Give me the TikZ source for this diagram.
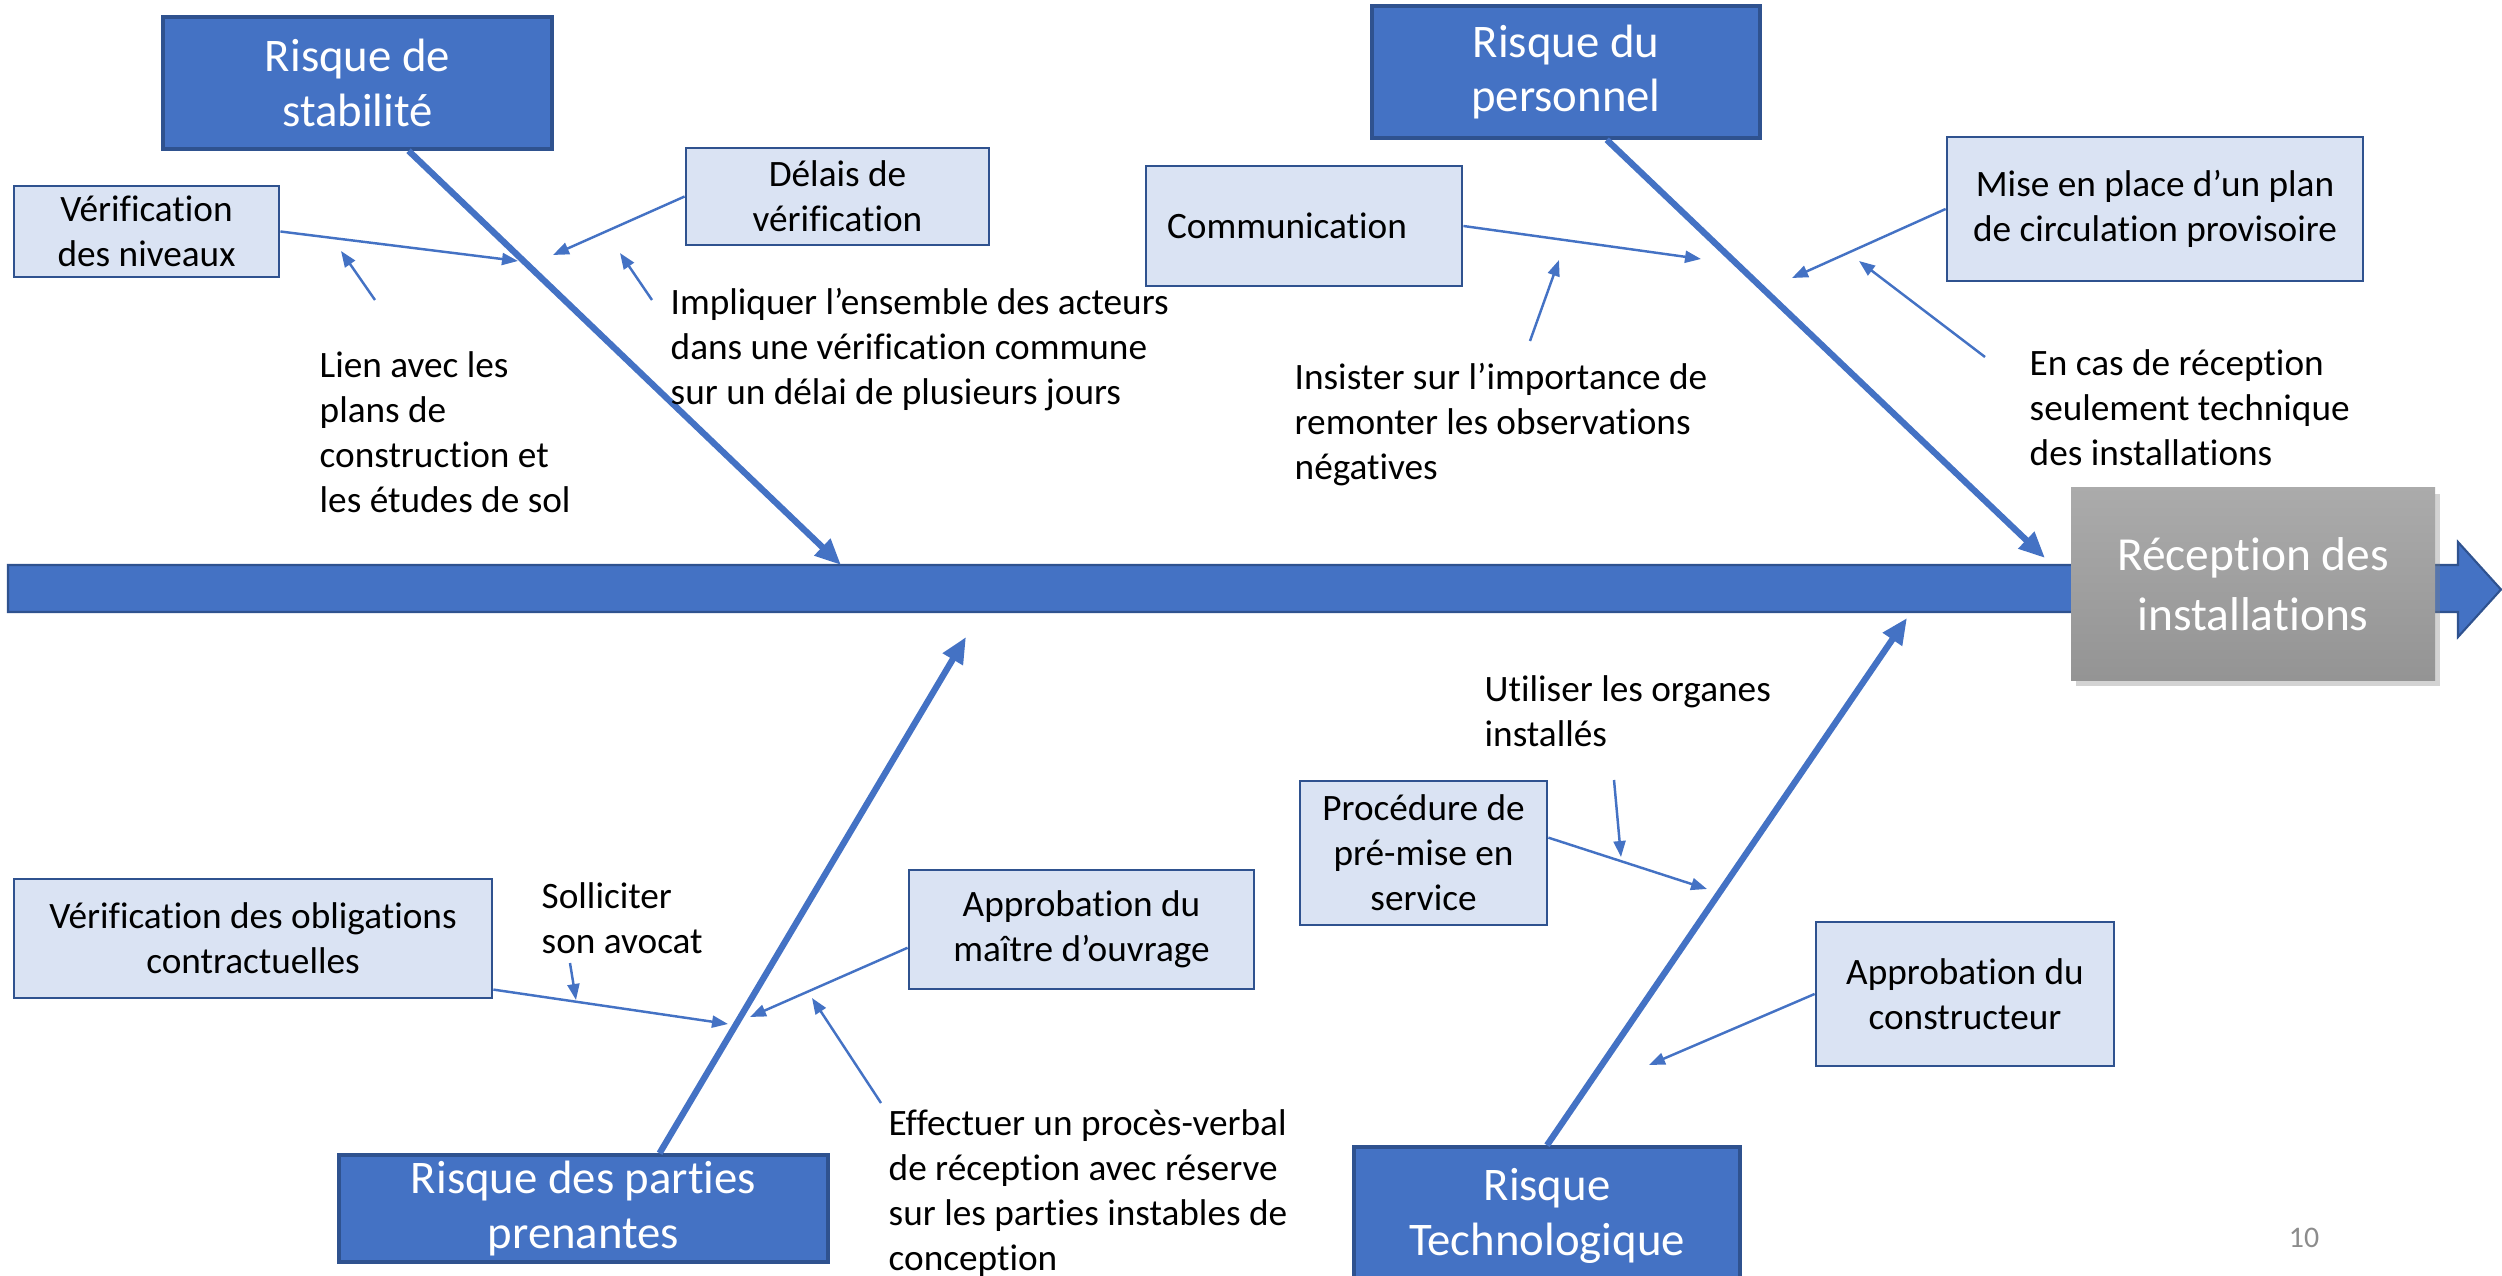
\documentclass[tikz,border=0pt]{standalone}
\usepackage{fontspec}
\setmainfont{Carlito}[Ligatures=NoCommon]
\usetikzlibrary{arrows.meta,shadows}
\definecolor{fishblue}{HTML}{4472C4}
\definecolor{fishedge}{HTML}{2F528F}
\definecolor{fishlight}{HTML}{DAE3F3}
\tikzset{
	riskbox/.style={draw=fishedge, fill=fishblue, line width=1pt, text=white, align=center, inner sep=0pt, font=\fontsize{13.3}{15.6}\selectfont},
	causebox/.style={draw=fishedge, fill=fishlight, line width=0.8pt, align=center, inner sep=0pt, font=\fontsize{10.6}{12.8}\selectfont},
	goalbox/.style={top color=black!33, bottom color=black!42, drop shadow={opacity=0.35, shadow xshift=0.05, shadow yshift=-0.06}, text=white, align=center, inner sep=0pt, font=\fontsize{13.5}{17}\selectfont},
	note/.style={anchor=north west, align=left, inner sep=0pt, font=\fontsize{10.6}{12.8}\selectfont},
	bone/.style={draw=fishblue, line width=1.8pt, -{Triangle[length=0.26cm,width=0.22cm]}},
	twig/.style={draw=fishblue, line width=0.7pt, -{Triangle[length=0.16cm,width=0.12cm]}}
}
\begin{document}
\begin{tikzpicture}
	\useasboundingbox (0,0) rectangle (25.02,12.75);
	\clip (0,0) rectangle (25.02,12.75);
	% spine
	\draw[draw=fishedge, fill=fishblue, line width=0.6pt] (0.08,7.10) -- (24.58,7.10) -- (24.58,7.33) -- (25.01,6.855) -- (24.58,6.38) -- (24.58,6.63) -- (0.08,6.63) -- cycle;
	\node[goalbox, minimum width=3.64cm, minimum height=1.92cm] (recep) at (22.53,6.91) {Réception des\\installations};

	% main causes
	\node[riskbox, minimum width=3.89cm, minimum height=1.32cm] (stab) at (3.575,11.92) {Risque de\\stabilité};
	\node[riskbox, minimum width=3.88cm, minimum height=1.32cm] (pers) at (15.66,12.03) {Risque du\\personnel};
	\node[riskbox, minimum width=4.89cm, minimum height=1.07cm] (part) at (5.835,0.665) {Risque des parties\\prenantes};
	\node[riskbox, minimum width=3.86cm, minimum height=1.38cm] (techno) at (15.47,0.59) {Risque\\Technologique};
	\coordinate (tipstab) at (8.41,7.10);
	\coordinate (tippers) at (20.45,7.17);
	\coordinate (tippart) at (9.66,6.38);
	\coordinate (tiptechno) at (19.07,6.57);
	\draw[bone] (stab.-53) -- (tipstab);
	\draw[bone] (pers.-59) -- (tippers);
	\draw[bone] (part.36) -- (tippart);
	\draw[bone] (techno.north) -- (tiptechno);

	% sub causes
	\node[causebox, minimum width=2.65cm, minimum height=0.91cm] (nivx) at (1.465,10.435) {Vérification\\des niveaux};
	\node[causebox, minimum width=3.03cm, minimum height=0.97cm] (delai) at (8.375,10.785) {Délais de\\vérification};
	\node[causebox, minimum height=1.20cm, text width=2.74cm, inner xsep=0.21cm, align=left] (comm) at (13.04,10.49) {Communication};
	\node[causebox, minimum width=4.16cm, minimum height=1.44cm] (plan) at (21.55,10.66) {Mise en place d’un plan\\de circulation provisoire};
	\node[causebox, minimum width=4.78cm, minimum height=1.19cm] (oblig) at (2.53,3.365) {Vérification des obligations\\contractuelles};
	\node[causebox, minimum width=3.45cm, minimum height=1.19cm] (mo) at (10.815,3.455) {Approbation du\\maître d’ouvrage};
	\node[causebox, minimum width=2.47cm, minimum height=1.44cm] (proc) at (14.235,4.22) {Procédure de\\pré-mise en\\service};
	\node[causebox, minimum width=2.98cm, minimum height=1.44cm] (constr) at (19.65,2.81) {Approbation du\\constructeur};
	\coordinate (endnivx) at (5.18,10.14);
	\coordinate (enddelai) at (5.53,10.20);
	\coordinate (endcomm) at (17.01,10.16);
	\coordinate (endplan) at (17.92,9.97);
	\coordinate (endoblig) at (7.28,2.51);
	\coordinate (endmo) at (7.50,2.58);
	\coordinate (endproc) at (17.07,3.86);
	\coordinate (endconstr) at (16.49,2.10);
	\draw[twig] (nivx.east) -- (endnivx);
	\draw[twig] (delai.west) -- (enddelai);
	\draw[twig] (comm.east) -- (endcomm);
	\draw[twig] (plan.west) -- (endplan);
	\draw[twig] (oblig.-12) -- (endoblig);
	\draw[twig] (mo.186) -- (endmo);
	\draw[twig] (proc.7) -- (endproc);
	\draw[twig] (constr.west) -- (endconstr);

	% remarks
	\node[note] (lien) at (3.19,9.24) {Lien avec les\\plans de\\construction et\\les études de sol};
	\node[note] (impl) at (6.70,9.87) {Impliquer l’ensemble des acteurs\\dans une vérification commune\\sur un délai de plusieurs jours};
	\node[note] (insist) at (12.94,9.12) {Insister sur l’importance de\\remonter les observations\\négatives};
	\node[note] (encas) at (20.29,9.26) {En cas de réception\\seulement technique\\des installations};
	\node[note] (sollic) at (5.41,3.93) {Solliciter\\son avocat};
	\node[note] (effect) at (8.88,1.66) {Effectuer un procès-verbal\\de réception avec réserve\\sur les parties instables de\\conception};
	\node[note] (utilis) at (14.84,6.00) {Utiliser les organes\\installés};
	\coordinate (lienA) at (3.75,9.75);
	\coordinate (lienB) at (3.41,10.24);
	\coordinate (implA) at (6.52,9.75);
	\coordinate (implB) at (6.20,10.22);
	\coordinate (insistA) at (15.30,9.34);
	\coordinate (insistB) at (15.59,10.15);
	\coordinate (encasA) at (19.85,9.18);
	\coordinate (encasB) at (18.59,10.14);
	\coordinate (sollicA) at (5.70,3.12);
	\coordinate (sollicB) at (5.76,2.75);
	\coordinate (effectA) at (8.81,1.72);
	\coordinate (effectB) at (8.12,2.77);
	\coordinate (utilisA) at (16.14,4.95);
	\coordinate (utilisB) at (16.21,4.18);
	\draw[twig] (lienA) -- (lienB);
	\draw[twig] (implA) -- (implB);
	\draw[twig] (insistA) -- (insistB);
	\draw[twig] (encasA) -- (encasB);
	\draw[twig] (sollicA) -- (sollicB);
	\draw[twig] (effectA) -- (effectB);
	\draw[twig] (utilisA) -- (utilisB);

	\node[text=black!45, font=\fontsize{8.5}{10}\selectfont] (page) at (23.04,0.37) {10};
\end{tikzpicture}
\end{document}
